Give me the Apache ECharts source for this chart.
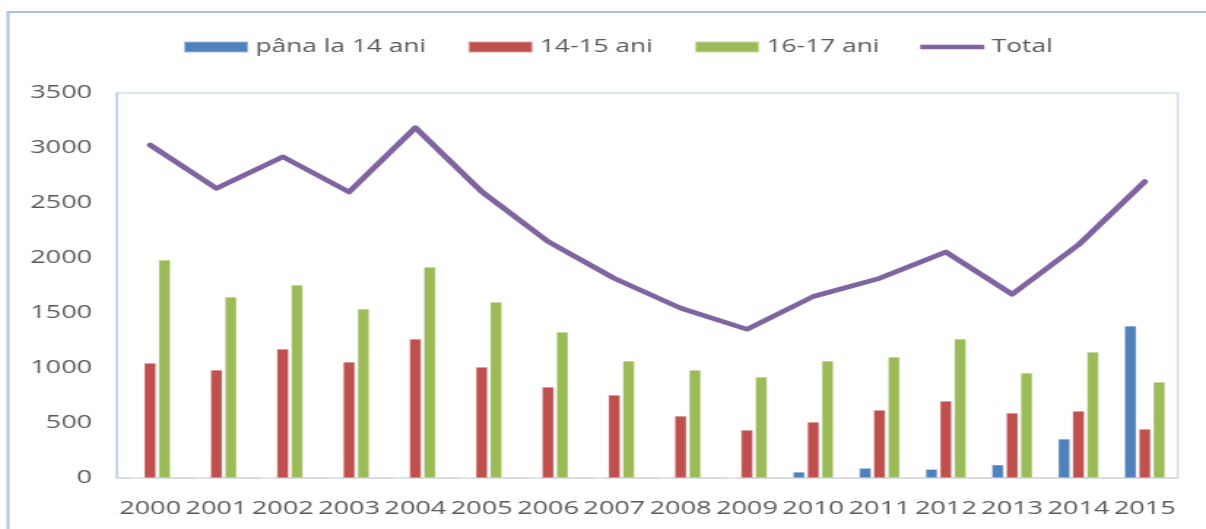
<!DOCTYPE html>
<html>
<head>
<meta charset="utf-8">
<script src="https://cdn.jsdelivr.net/npm/echarts@6/dist/echarts.min.js"></script>
<style>
  html, body { margin: 0; padding: 0; background: #fff; overflow: hidden; }
  /* the source picture is a horizontally stretched Excel chart */
  #chart { width: 826px; height: 529px; transform: scaleX(1.46); transform-origin: 0 0; }
</style>
</head>
<body>
<div id="chart"></div>
<script>
const years = ['2000', '2001', '2002', '2003', '2004', '2005', '2006', '2007',
  '2008', '2009', '2010', '2011', '2012', '2013', '2014', '2015']

const under14 = [0, 0, 0, 0, 0, 0, 0, 0, 0, 0, 55, 90, 80, 120, 355, 1382]
const age1415 = [1045, 982, 1173, 1055, 1264, 1009, 827, 755, 564, 436, 509, 618, 700, 591, 609, 445]
const age1617 = [1982, 1645, 1755, 1536, 1918, 1600, 1327, 1064, 982, 918, 1064, 1100, 1264, 955, 1145, 873]
const total = [3027, 2633, 2920, 2600, 3185, 2603, 2150, 1815, 1545, 1352, 1650, 1815, 2055, 1670, 2120, 2695]

const COLORS = {
  blue: '#4f81bd',
  red: '#c0504d',
  green: '#9bbb59',
  purple: '#8064a2',
  text: '#595959'
}

const FONT = '"Open Sans", sans-serif'

// flat bar icon for the line entry, the invisible moves keep the full box
const LINE_ICON = 'path://M0,0 M44,11 M0,3.3 L44,3.3 L44,7.7 L0,7.7 Z'

const chart = echarts.init(document.getElementById('chart'))

const barSeries = (name, data, color) => ({
  name,
  type: 'bar',
  data,
  barWidth: 8.2,
  barGap: '20%',
  itemStyle: { color, borderColor: 'rgba(255,255,255,0.45)', borderWidth: 0.6 }
})

chart.setOption({
  animation: false,
  textStyle: { fontFamily: FONT },
  graphic: [{
    type: 'rect',
    shape: { x: 5.5, y: 12, width: 900, height: 700 },
    style: { fill: 'none', stroke: '#a9c1df', lineWidth: 2 },
    silent: true
  }],
  legend: {
    top: 33,
    left: 120,
    itemWidth: 44,
    itemHeight: 11,
    itemGap: 28,
    textStyle: { color: COLORS.text, fontSize: 18, fontFamily: FONT },
    data: [
      { name: 'pâna la 14 ani', icon: 'rect' },
      { name: '14-15 ani', icon: 'rect' },
      { name: '16-17 ani', icon: 'rect' },
      { name: 'Total', icon: LINE_ICON }
    ]
  },
  grid: {
    left: 80.1,
    right: 19.2,
    top: 93,
    bottom: 51,
    show: true,
    borderColor: '#bccfe8',
    borderWidth: 1
  },
  xAxis: {
    type: 'category',
    data: years,
    axisTick: { show: false },
    axisLine: { lineStyle: { color: '#d9d9d9', width: 1.5 } },
    axisLabel: { color: COLORS.text, fontSize: 18.5, margin: 21, interval: 0 }
  },
  yAxis: {
    type: 'value',
    min: 0,
    max: 3500,
    interval: 500,
    splitLine: { show: false },
    axisLine: { show: true, lineStyle: { color: '#bccfe8', width: 1.5 } },
    axisLabel: { color: COLORS.text, fontSize: 18.5, margin: 17, formatter: (v) => String(v) }
  },
  series: [
    barSeries('pâna la 14 ani', under14, COLORS.blue),
    barSeries('14-15 ani', age1415, COLORS.red),
    barSeries('16-17 ani', age1617, COLORS.green),
    {
      name: 'Total',
      type: 'line',
      data: total,
      symbol: 'none',
      lineStyle: { color: COLORS.purple, width: 4.6, cap: 'round', join: 'round' },
      itemStyle: { color: COLORS.purple }
    }
  ]
})
</script>
</body>
</html>
